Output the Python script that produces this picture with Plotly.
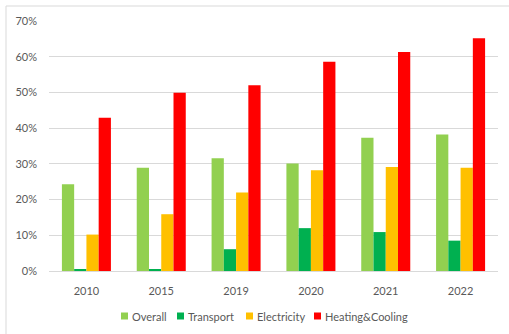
import plotly.graph_objects as go

years = ["2010", "2015", "2019", "2020", "2021", "2022"]
overall = [0.243, 0.289, 0.316, 0.301, 0.373, 0.382]
transport = [0.003, 0.003, 0.061, 0.120, 0.109, 0.085]
electricity = [0.102, 0.159, 0.220, 0.282, 0.291, 0.289]
heating = [0.429, 0.499, 0.520, 0.586, 0.613, 0.652]

series_names = ["Overall", "Transport", "Electricity", "Heating&Cooling"]
series_values = [overall, transport, electricity, heating]
series_colors = ["#92D050", "#00B050", "#FFC000", "#FF0000"]

W, H = 509, 334
L, R, T, B = 49, 11, 21, 63
PW, PH = W - L - R, H - T - B


def px(x):
    return (x - L) / PW


def py(y):
    return (H - B - y) / PH


fig = go.Figure()
for name, vals, col in zip(series_names, series_values, series_colors):
    fig.add_trace(go.Bar(x=years, y=vals, name=name, marker=dict(color=col, line=dict(width=0))))

font = dict(family="Lato, Liberation Sans, sans-serif", size=11, color="#595959")

# manual legend (compact, like the reference)
legend_x = [121, 177, 246, 314]
shapes = [dict(type="rect", xref="paper", yref="paper", x0=px(6), x1=1.2, y0=-0.4, y1=py(6),
               line=dict(color="#D9D9D9", width=1), fillcolor="rgba(0,0,0,0)", layer="below")]
annotations = []
for name, col, lx in zip(series_names, series_colors, legend_x):
    shapes.append(dict(type="rect", xref="paper", yref="paper", x0=px(lx), x1=px(lx + 7),
                       y0=py(319.5), y1=py(312.5), line=dict(width=0), fillcolor=col))
    annotations.append(dict(text=name, xref="paper", yref="paper", x=px(lx + 9), y=py(316),
                            xanchor="left", yanchor="middle", showarrow=False, font=font))

fig.update_layout(
    width=W, height=H,
    margin=dict(l=L, r=R, t=T, b=B),
    paper_bgcolor="white", plot_bgcolor="white",
    barmode="group", bargap=0.345, bargroupgap=0,
    font=font,
    showlegend=False,
    xaxis=dict(showline=True, linecolor="#D9D9D9", linewidth=1, ticks="", tickfont=font,
               ticklabelstandoff=10),
    yaxis=dict(range=[0, 0.7], dtick=0.1, tickformat=".0%", showgrid=True, gridcolor="#D9D9D9",
               gridwidth=1, zeroline=False, showline=False, ticks="", tickfont=font,
               ticklabelstandoff=11),
    shapes=shapes,
    annotations=annotations,
)

fig.write_html("out.html")
